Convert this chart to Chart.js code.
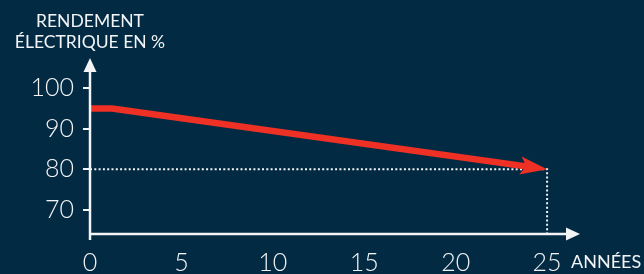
<!DOCTYPE html>
<html>
<head>
<meta charset="utf-8">
<script src="https://cdn.jsdelivr.net/npm/chart.js@4/dist/chart.umd.min.js"></script>
<style>
  html, body { margin: 0; padding: 0; background: #032a43; }
  #wrap { width: 644px; height: 274px; position: relative; }
</style>
</head>
<body>
<div id="wrap"><canvas id="Line__canvas_1"></canvas></div>
<script>
// données
var annees = [0, 1.2, 25];
var rendement = [95, 95, 80];
var repereAnnee = 25;
var repereRendement = 80;
var xTicks = [0, 5, 10, 15, 20, 25];
var yTicks = [70, 80, 90, 100];

var WHITE = '#f2f4f6';
var RED = '#ee3124';
var Y_MIN = 64;
var FONT = 'Lato';

function pts(xs, ys) {
    return xs.map(function (x, i) { return { x: x, y: ys[i] }; });
}

// pointe de flèche "encochée"
function arrowHead(ctx, tipX, tipY, dx, dy, len, half, notch) {
    var nx = -dy, ny = dx;
    var bx = tipX - dx * len, by = tipY - dy * len;
    ctx.beginPath();
    ctx.moveTo(tipX, tipY);
    ctx.lineTo(bx + nx * half, by + ny * half);
    ctx.lineTo(tipX - dx * (len - notch), tipY - dy * (len - notch));
    ctx.lineTo(bx - nx * half, by - ny * half);
    ctx.closePath();
    ctx.fill();
}

function redDir(chart) {
    var d = chart.getDatasetMeta(0).data;
    var p1 = d[d.length - 2], p2 = d[d.length - 1];
    var dx = p2.x - p1.x, dy = p2.y - p1.y, l = Math.hypot(dx, dy);
    return { tip: p2, dx: dx / l, dy: dy / l };
}

var decorPlugin = {
    id: 'decor',
    beforeDatasetDraw: function (chart, args) {
        if (args.index !== 0) return;
        // coupe la ligne rouge avant la pointe
        var r = redDir(chart), ctx = chart.ctx;
        var bx = r.tip.x - r.dx * 20, by = r.tip.y - r.dy * 20;
        var nx = -r.dy, ny = r.dx;
        ctx.save();
        ctx.beginPath();
        ctx.moveTo(bx + nx * 1000, by + ny * 1000);
        ctx.lineTo(bx - nx * 1000, by - ny * 1000);
        ctx.lineTo(bx - nx * 1000 - r.dx * 3000, by - ny * 1000 - r.dy * 3000);
        ctx.lineTo(bx + nx * 1000 - r.dx * 3000, by + ny * 1000 - r.dy * 3000);
        ctx.closePath();
        ctx.clip();
    },
    afterDatasetDraw: function (chart, args) {
        if (args.index !== 0) return;
        chart.ctx.restore();
    },
    afterDraw: function (chart) {
        var ctx = chart.ctx;
        var x = chart.scales.x, y = chart.scales.y;
        var x0 = x.getPixelForValue(0), y0 = y.getPixelForValue(Y_MIN);
        var a = chart.chartArea;
        ctx.save();
        ctx.fillStyle = WHITE;
        ctx.strokeStyle = WHITE;
        ctx.lineWidth = 2.5;
        // axe vertical
        ctx.beginPath();
        ctx.moveTo(x0, y0 + 6);
        ctx.lineTo(x0, a.top + 10);
        ctx.stroke();
        arrowHead(ctx, x0, a.top, 0, -1, 14, 6.5, 0);
        // axe horizontal
        ctx.beginPath();
        ctx.moveTo(x0, y0);
        ctx.lineTo(a.right - 10, y0);
        ctx.stroke();
        arrowHead(ctx, a.right, y0, 1, 0, 14, 6.5, 0);

        // pointe rouge
        var r = redDir(chart);
        ctx.fillStyle = RED;
        arrowHead(ctx, r.tip.x, r.tip.y, r.dx, r.dy, 27, 9, 6);

        // titres d'axes
        ctx.fillStyle = WHITE;
        ctx.font = '17.5px ' + FONT;
        ctx.textAlign = 'center';
        ctx.textBaseline = 'alphabetic';
        ctx.fillText('RENDEMENT', x0, 27);
        ctx.fillText('ÉLECTRIQUE EN %', x0, 48);
        ctx.font = '18px ' + FONT;
        ctx.textAlign = 'left';
        ctx.fillText('ANNÉES', 571, 268);
        ctx.restore();
    }
};

function Line_Rendement() {
    var ctr = document.getElementById('Line__canvas_1');
    var line = new Chart(ctr, {
        type: 'line',
        data: {
            datasets: [{
                label: 'Rendement',
                data: pts(annees, rendement),
                borderColor: RED,
                borderWidth: 6.5,
                borderCapStyle: 'butt',
                pointRadius: 0,
                tension: 0,
                fill: false,
            }, {
                label: 'Repère',
                data: [
                    { x: 0, y: repereRendement },
                    { x: repereAnnee, y: repereRendement },
                    { x: repereAnnee, y: Y_MIN }
                ],
                borderColor: WHITE,
                borderWidth: 2,
                borderDash: [2, 2.3],
                pointRadius: 0,
                tension: 0,
                fill: false,
            }],
        },
        options: {
            responsive: true,
            maintainAspectRatio: false,
            animation: false,
            layout: { padding: { top: 58, right: 64, left: 0, bottom: 0 } },
            plugins: { legend: { display: false }, tooltip: { enabled: false } },
            scales: {
                x: {
                    type: 'linear',
                    min: 0,
                    max: 26.8,
                    afterFit: function (s) { s.height = 40; },
                    afterBuildTicks: function (s) { s.ticks = xTicks.map(function (v) { return { value: v }; }); },
                    grid: { display: false },
                    border: { display: false },
                    ticks: { color: WHITE, font: { family: FONT, size: 25, weight: 300 }, padding: 6, maxRotation: 0 }
                },
                y: {
                    min: Y_MIN,
                    max: 107.5,
                    afterFit: function (s) { s.width = 90; },
                    afterBuildTicks: function (s) { s.ticks = yTicks.map(function (v) { return { value: v }; }); },
                    grid: { drawOnChartArea: false, drawTicks: true, tickLength: 7, color: WHITE, lineWidth: 2 },
                    border: { display: false },
                    ticks: { color: WHITE, font: { family: FONT, size: 25, weight: 300 }, padding: 9 }
                }
            }
        },
        plugins: [decorPlugin]
    });
}

Line_Rendement();
</script>
</body>
</html>
